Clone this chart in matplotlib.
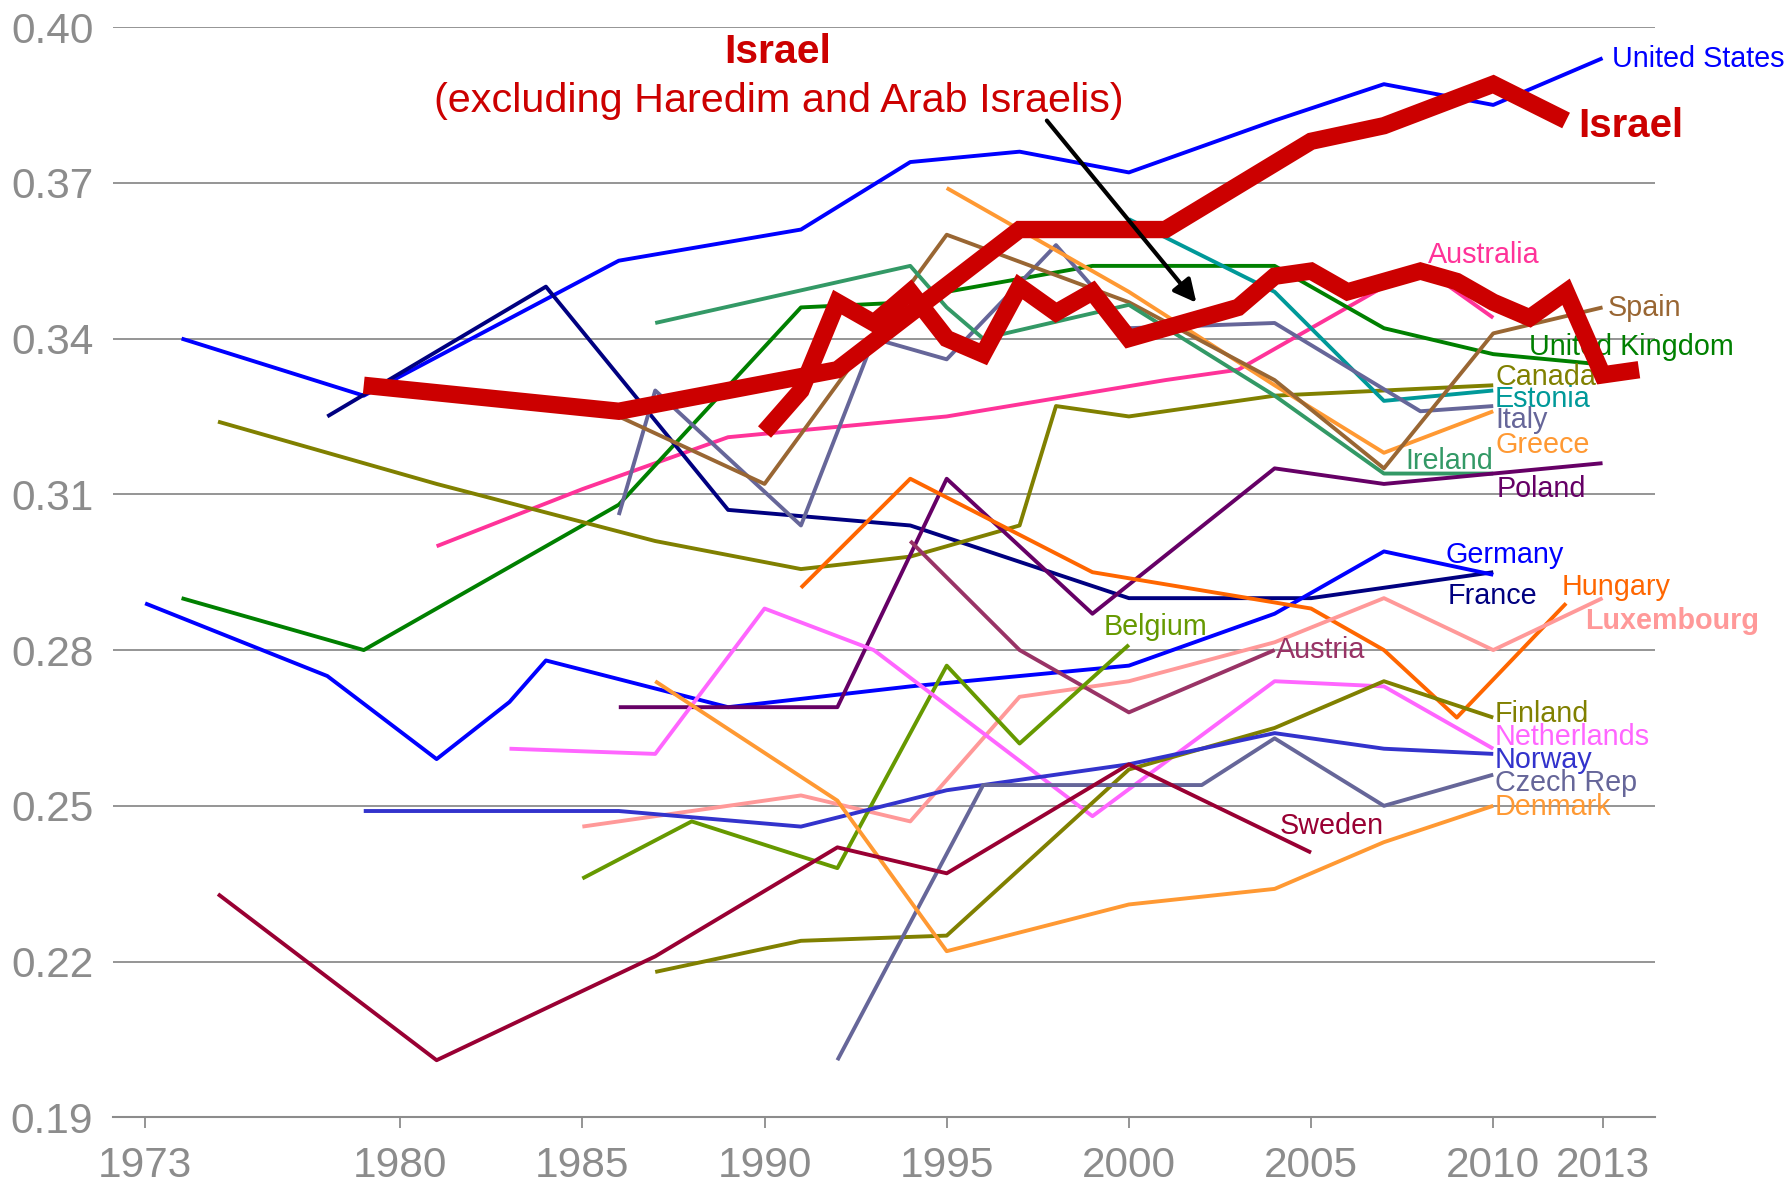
import matplotlib
matplotlib.use("Agg")
import matplotlib.pyplot as plt

plt.rcParams['font.family'] = ['Liberation Sans', 'DejaVu Sans']

# Gini coefficients by country and survey year
us_years = [1974, 1979, 1986, 1991, 1994, 1997, 2000, 2004, 2007, 2010, 2013]
us_gini = [0.340, 0.329, 0.355, 0.361, 0.374, 0.376, 0.372, 0.382, 0.389, 0.385, 0.394]

israel_years = [1979, 1986, 1992, 1997, 2001, 2005, 2007, 2010, 2012]
israel_gini = [0.331, 0.326, 0.334, 0.361, 0.361, 0.378, 0.381, 0.389, 0.382]

isr_ex_years = [1990, 1991, 1992, 1993, 1994, 1995, 1996, 1997, 1998, 1999, 2000, 2001,
                2002, 2003, 2004, 2005, 2006, 2007, 2008, 2009, 2010, 2011, 2012, 2013, 2014]
isr_ex_gini = [0.322, 0.330, 0.347, 0.343, 0.349, 0.340, 0.337, 0.350, 0.345, 0.349, 0.340, 0.342,
               0.344, 0.346, 0.352, 0.353, 0.349, 0.351, 0.353, 0.351, 0.347, 0.344, 0.349, 0.333, 0.334]

aus_years = [1981, 1985, 1989, 1995, 2001, 2003, 2008, 2010]
aus_gini = [0.300, 0.311, 0.321, 0.325, 0.332, 0.334, 0.354, 0.344]

uk_years = [1974, 1979, 1986, 1991, 1994, 1995, 1999, 2004, 2007, 2010, 2013]
uk_gini = [0.290, 0.280, 0.308, 0.346, 0.347, 0.349, 0.354, 0.354, 0.342, 0.337, 0.335]

fra_years = [1978, 1984, 1989, 1994, 2000, 2005, 2010]
fra_gini = [0.325, 0.350, 0.307, 0.304, 0.290, 0.290, 0.295]

ger_years = [1973, 1978, 1981, 1983, 1984, 1989, 1994, 2000, 2004, 2007, 2010]
ger_gini = [0.289, 0.275, 0.259, 0.270, 0.278, 0.269, 0.273, 0.277, 0.287, 0.299, 0.2945]

can_years = [1975, 1981, 1987, 1991, 1994, 1997, 1998, 2000, 2004, 2007, 2010]
can_gini = [0.324, 0.312, 0.301, 0.2956, 0.298, 0.304, 0.327, 0.325, 0.329, 0.330, 0.331]

est_years = [2000, 2004, 2007, 2010]
est_gini = [0.363, 0.349, 0.328, 0.330]

ita_years = [1986, 1987, 1989, 1991, 1993, 1995, 1998, 2000, 2004, 2008, 2010]
ita_gini = [0.306, 0.330, 0.317, 0.304, 0.340, 0.336, 0.358, 0.342, 0.343, 0.326, 0.327]

gre_years = [1995, 2000, 2004, 2007, 2010]
gre_gini = [0.369, 0.349, 0.331, 0.318, 0.326]

esp_years = [1986, 1990, 1995, 2000, 2004, 2007, 2010, 2013]
esp_gini = [0.325, 0.312, 0.360, 0.347, 0.332, 0.315, 0.341, 0.346]

irl_years = [1987, 1994, 1995, 1996, 2000, 2004, 2007, 2010]
irl_gini = [0.343, 0.354, 0.346, 0.340, 0.3465, 0.329, 0.314, 0.314]

pol_years = [1986, 1992, 1995, 1999, 2004, 2007, 2010, 2013]
pol_gini = [0.269, 0.269, 0.313, 0.287, 0.315, 0.312, 0.314, 0.316]

hun_years = [1991, 1994, 1999, 2005, 2007, 2009, 2012]
hun_gini = [0.292, 0.313, 0.295, 0.288, 0.280, 0.267, 0.289]

lux_years = [1985, 1991, 1994, 1997, 2000, 2004, 2007, 2010, 2013]
lux_gini = [0.246, 0.252, 0.247, 0.271, 0.274, 0.2815, 0.290, 0.280, 0.290]

aut_years = [1994, 1997, 2000, 2004]
aut_gini = [0.301, 0.280, 0.268, 0.280]

bel_years = [1985, 1988, 1992, 1995, 1997, 2000]
bel_gini = [0.236, 0.247, 0.238, 0.277, 0.262, 0.281]

nld_years = [1983, 1987, 1990, 1993, 1999, 2004, 2007, 2010]
nld_gini = [0.261, 0.260, 0.288, 0.280, 0.248, 0.274, 0.273, 0.261]

fin_years = [1987, 1991, 1995, 2000, 2004, 2007, 2010]
fin_gini = [0.218, 0.224, 0.225, 0.257, 0.265, 0.274, 0.267]

nor_years = [1979, 1986, 1991, 1995, 2000, 2004, 2007, 2010]
nor_gini = [0.249, 0.249, 0.246, 0.253, 0.258, 0.264, 0.261, 0.260]

cze_years = [1992, 1996, 2002, 2004, 2007, 2010]
cze_gini = [0.201, 0.254, 0.254, 0.263, 0.250, 0.256]

dnk_years = [1987, 1992, 1995, 2000, 2004, 2007, 2010]
dnk_gini = [0.274, 0.251, 0.222, 0.231, 0.234, 0.243, 0.250]

swe_years = [1975, 1981, 1987, 1992, 1995, 2000, 2005]
swe_gini = [0.233, 0.201, 0.221, 0.242, 0.237, 0.258, 0.241]

x_ticks = [1973, 1980, 1985, 1990, 1995, 2000, 2005, 2010, 2013]
y_ticks = [0.19, 0.22, 0.25, 0.28, 0.31, 0.34, 0.37, 0.40]

thin = [
    (us_years, us_gini, '#0000FF'),
    (aus_years, aus_gini, '#FF3399'),
    (uk_years, uk_gini, '#008000'),
    (fra_years, fra_gini, '#000080'),
    (ger_years, ger_gini, '#0000FF'),
    (can_years, can_gini, '#808000'),
    (est_years, est_gini, '#009999'),
    (ita_years, ita_gini, '#666699'),
    (gre_years, gre_gini, '#FF9933'),
    (esp_years, esp_gini, '#996633'),
    (irl_years, irl_gini, '#339966'),
    (pol_years, pol_gini, '#660066'),
    (hun_years, hun_gini, '#FF6600'),
    (lux_years, lux_gini, '#FF9999'),
    (aut_years, aut_gini, '#993366'),
    (bel_years, bel_gini, '#669900'),
    (nld_years, nld_gini, '#FF66FF'),
    (fin_years, fin_gini, '#808000'),
    (nor_years, nor_gini, '#3333CC'),
    (cze_years, cze_gini, '#666699'),
    (dnk_years, dnk_gini, '#FF9933'),
    (swe_years, swe_gini, '#990033'),
]

# end-of-line labels: text, x, y, colour, bold
labels = [
    ('United States', 2013.25, 0.3924, '#0000FF', False),
    ('Australia', 2008.22, 0.3545, '#FF3399', False),
    ('Spain', 2013.15, 0.3443, '#996633', False),
    ('United Kingdom', 2010.99, 0.3368, '#008000', False),
    ('Canada', 2010.05, 0.3310, '#808000', False),
    ('Estonia', 2010.05, 0.3268, '#009999', False),
    ('Italy', 2010.05, 0.3227, '#666699', False),
    ('Greece', 2010.05, 0.3179, '#FF9933', False),
    ('Ireland', 2007.60, 0.3148, '#339966', False),
    ('Poland', 2010.09, 0.3094, '#660066', False),
    ('Germany', 2008.69, 0.2968, '#0000FF', False),
    ('France', 2008.76, 0.2889, '#000080', False),
    ('Hungary', 2011.89, 0.2906, '#FF6600', False),
    ('Luxembourg', 2012.52, 0.2840, '#FF9999', True),
    ('Belgium', 1999.32, 0.2829, '#669900', False),
    ('Austria', 2004.04, 0.2784, '#993366', False),
    ('Finland', 2010.05, 0.2662, '#808000', False),
    ('Netherlands', 2010.05, 0.2617, '#FF66FF', False),
    ('Norway', 2010.05, 0.2573, '#3333CC', False),
    ('Czech Rep', 2010.05, 0.2529, '#666699', False),
    ('Denmark', 2010.05, 0.2482, '#FF9933', False),
    ('Sweden', 2004.13, 0.2446, '#990033', False),
]

fig = plt.figure(figsize=(17.89, 11.87), dpi=100)
ax = fig.add_axes([0.0630, 0.0587, 0.8621, 0.9185])

for yrs, vals, col in thin:
    ax.plot(yrs, vals, color=col, lw=2.8, solid_capstyle='butt', zorder=3)

for txt, x, y, col, bold in labels:
    ax.text(x, y, txt, color=col, fontsize=20.7, fontweight='bold' if bold else 'normal',
            va='baseline', ha='left', zorder=4)

ax.plot(israel_years, israel_gini, color='#CC0000', lw=12.5, solid_capstyle='butt',
        solid_joinstyle='miter', zorder=5)
ax.plot(isr_ex_years, isr_ex_gini, color='#CC0000', lw=12.5, solid_capstyle='butt',
        solid_joinstyle='miter', zorder=5)

ax.text(2012.33, 0.3789, 'Israel', color='#CC0000', fontsize=29, fontweight='bold',
        ha='left', va='baseline')
ax.text(1990.36, 0.3930, 'Israel', color='#CC0000', fontsize=29.5, fontweight='bold',
        ha='center', va='baseline')
ax.text(1990.38, 0.3837, '(excluding Haredim and Arab Israelis)', color='#CC0000',
        fontsize=29.8, ha='center', va='baseline')
ax.annotate('', xy=(2001.90, 0.3465), xytext=(1997.70, 0.3824),
            arrowprops=dict(arrowstyle='-|>', color='black', lw=3, mutation_scale=34),
            zorder=6)

ax.set_xlim(1972.11, 2014.44)
ax.set_ylim(0.19, 0.40)
ax.set_xticks(x_ticks)
ax.set_xticklabels([str(t) for t in x_ticks])
ax.set_yticks(y_ticks)
ax.set_yticklabels(['%.2f' % t for t in y_ticks])
ax.yaxis.grid(True, color='#8c8c8c', lw=1.3)
ax.set_axisbelow(True)
for s in ['top', 'right', 'left']:
    ax.spines[s].set_visible(False)
ax.spines['bottom'].set_color('#8c8c8c')
ax.spines['bottom'].set_linewidth(1.5)
ax.tick_params(axis='x', colors='#8c8c8c', labelsize=30.5, length=8, width=1.3, pad=13)
ax.tick_params(axis='y', colors='#8c8c8c', labelsize=30.5, length=0, pad=14)

fig.savefig('out.png', dpi=100)
